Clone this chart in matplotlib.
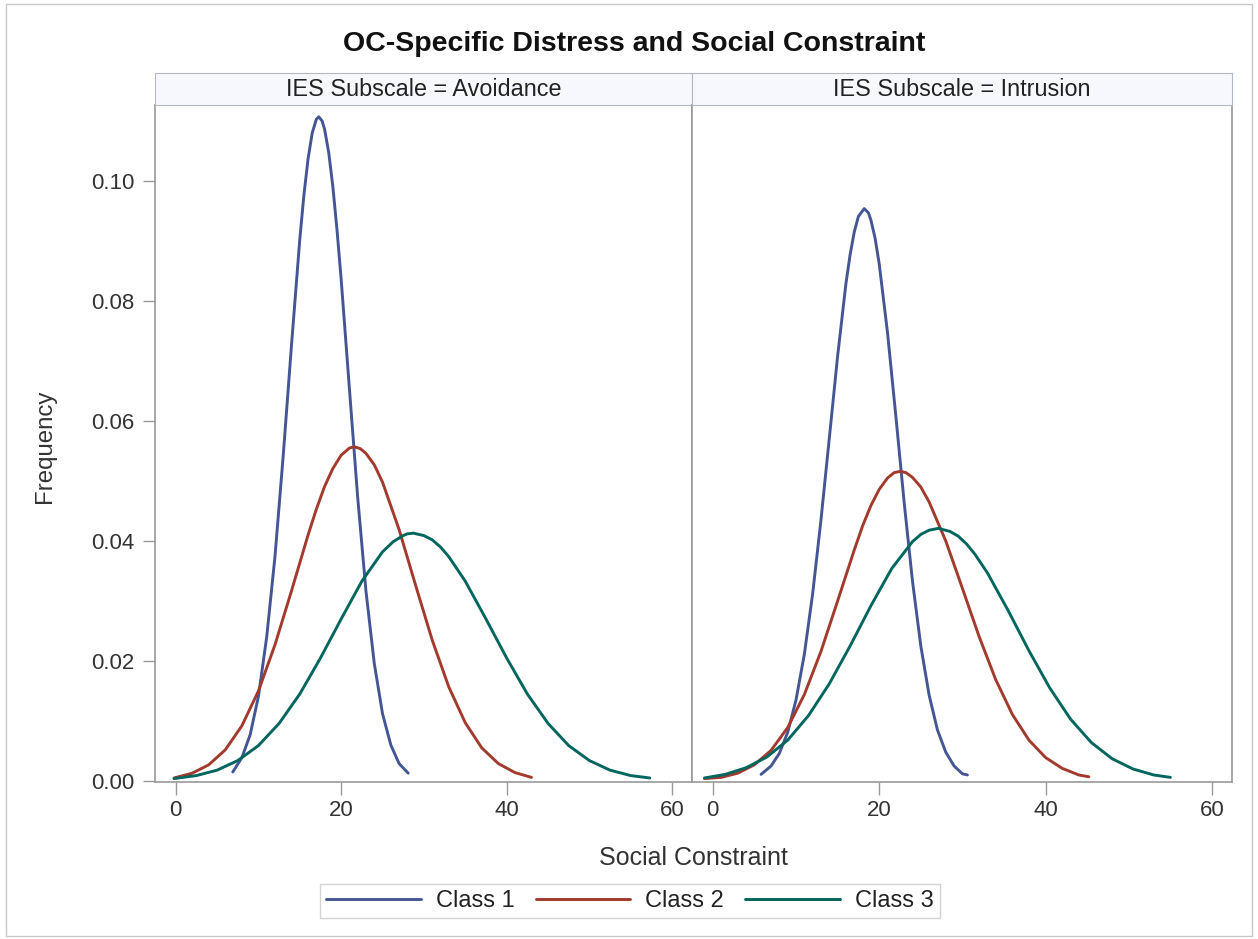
import matplotlib
matplotlib.use('Agg')
import matplotlib.pyplot as plt
from matplotlib.patches import Rectangle

plt.rcParams['font.family'] = ['Liberation Sans', 'DejaVu Sans']

# values (Social Constraint, Frequency)
avoid_c1_x = [6.9, 8, 9, 10, 11, 12, 13, 14, 15, 15.5, 16, 16.5, 17, 17.3, 17.7, 18, 18.5, 19, 19.5, 20, 21, 22,
              23, 24, 25, 26, 27, 28.1]
avoid_c1_y = [0.0015, 0.0039, 0.0077, 0.0141, 0.0240, 0.0374, 0.0543, 0.0727, 0.0903, 0.0977, 0.1037, 0.1080,
              0.1103, 0.1107, 0.1100, 0.1086, 0.1047, 0.0990, 0.0918, 0.0836, 0.0653, 0.0472, 0.0316, 0.0196,
              0.0112, 0.0060, 0.0029, 0.0013]

avoid_c2_x = [-0.2, 2, 4, 6, 8, 10, 12, 14, 16, 17, 18, 19, 20, 21, 21.6, 22.3, 23, 24, 25, 27, 29, 31, 33, 35,
              37, 39, 41, 43]
avoid_c2_y = [0.0005, 0.0013, 0.0027, 0.0052, 0.0092, 0.0150, 0.0227, 0.0317, 0.0410, 0.0453, 0.0491, 0.0521,
              0.0543, 0.0555, 0.0557, 0.0554, 0.0546, 0.0527, 0.0498, 0.0419, 0.0326, 0.0235, 0.0157, 0.0097,
              0.0055, 0.0029, 0.0014, 0.0006]

avoid_c3_x = [-0.2, 2.5, 5, 7.5, 10, 12.5, 15, 17.5, 20, 22.5, 25, 26.3, 27.5, 28, 28.75, 30, 31, 32, 33, 35,
              37.5, 40, 42.5, 45, 47.5, 50, 52.5, 55, 57.3]
avoid_c3_y = [0.0004, 0.0009, 0.0018, 0.0034, 0.0059, 0.0096, 0.0145, 0.0205, 0.0270, 0.0333, 0.0382, 0.0399,
              0.0409, 0.0412, 0.0413, 0.0409, 0.0402, 0.0390, 0.0374, 0.0333, 0.0270, 0.0205, 0.0145, 0.0096,
              0.0059, 0.0034, 0.0018, 0.0009, 0.0005]

intr_c1_x = [5.8, 7, 8, 9, 10, 11, 12, 13, 14, 15, 16, 16.5, 17, 17.5, 18.2, 18.7, 19, 19.5, 20, 21, 22, 23, 24,
             25, 26, 27, 28, 29, 30, 30.6]
intr_c1_y = [0.0011, 0.0025, 0.0046, 0.0081, 0.0135, 0.0211, 0.0312, 0.0435, 0.0571, 0.0708, 0.0829, 0.0877,
             0.0915, 0.0941, 0.0954, 0.0947, 0.0935, 0.0905, 0.0862, 0.0747, 0.0608, 0.0464, 0.0333, 0.0225,
             0.0143, 0.0085, 0.0048, 0.0025, 0.0012, 0.0010]

intr_c2_x = [-1, 1, 3, 5, 7, 9, 11, 13, 15, 17, 18, 19, 20, 21, 21.8, 22.5, 23.2, 24, 25, 26, 28, 30, 32, 34, 36,
             38, 40, 42, 44, 45.2]
intr_c2_y = [0.0004, 0.0006, 0.0013, 0.0027, 0.0051, 0.0089, 0.0144, 0.0216, 0.0300, 0.0385, 0.0425, 0.0459,
             0.0486, 0.0505, 0.0514, 0.0516, 0.0514, 0.0506, 0.0490, 0.0465, 0.0400, 0.0321, 0.0241, 0.0169,
             0.0111, 0.0068, 0.0039, 0.0021, 0.0010, 0.0007]

intr_c3_x = [-1, 1.5, 4, 6.5, 9, 11.5, 14, 16.5, 19, 21.5, 24, 25, 26, 27.1, 28.5, 29.5, 30.5, 31.5, 33, 35.5, 38,
             40.5, 43, 45.5, 48, 50.5, 53, 55]
intr_c3_y = [0.0005, 0.0011, 0.0022, 0.0040, 0.0068, 0.0109, 0.0162, 0.0225, 0.0292, 0.0354, 0.0399, 0.0411,
             0.0418, 0.0421, 0.0416, 0.0408, 0.0395, 0.0378, 0.0347, 0.0284, 0.0217, 0.0155, 0.0103, 0.0064,
             0.0037, 0.0020, 0.0010, 0.0006]

panels = ['Avoidance', 'Intrusion']
class_names = ['Class 1', 'Class 2', 'Class 3']
colors = ['#445694', '#A23A2E', '#01665E']
x_ticks = [0, 20, 40, 60]
y_ticks = [0.00, 0.02, 0.04, 0.06, 0.08, 0.10]

series = {
    'Avoidance': [(avoid_c1_x, avoid_c1_y), (avoid_c2_x, avoid_c2_y), (avoid_c3_x, avoid_c3_y)],
    'Intrusion': [(intr_c1_x, intr_c1_y), (intr_c2_x, intr_c2_y), (intr_c3_x, intr_c3_y)],
}

W, H = 1258, 939
fig = plt.figure(figsize=(W / 100, H / 100), dpi=100)
fig.patch.set_facecolor('white')

# outer border like the SAS graph frame
fig.add_artist(Rectangle((6 / W, 3 / H), 1 - 12 / W, 1 - 7 / H, transform=fig.transFigure,
                         fill=False, edgecolor='#c8c8c8', lw=1))

axis_grey = '#9a9a9a'
text_col = '#333333'
lefts = [155 / W, 692 / W]
widths = [537 / W, 540 / W]
bottom = 1 - 782 / H
height = (782 - 105) / H
strip_h = 32 / H

handles = []
for k, name in enumerate(panels):
    ax = fig.add_axes([lefts[k], bottom, widths[k], height])
    for (xs, ys), c, lab in zip(series[name], colors, class_names):
        ln, = ax.plot(xs, ys, color=c, lw=2.1, label=lab, solid_capstyle='round', solid_joinstyle='round')
        if k == 0:
            handles.append(ln)
    ax.set_xlim(-2.5, 62.4)
    ax.set_ylim(-0.00017, 0.11267)
    ax.set_xticks(x_ticks)
    ax.set_xticklabels([str(t) for t in x_ticks], fontsize=16, color=text_col)
    ax.tick_params(axis='x', length=9, width=1, color=axis_grey, pad=4)
    if k == 0:
        ax.set_yticks(y_ticks)
        ax.set_yticklabels(['%.2f' % t for t in y_ticks], fontsize=16, color=text_col)
        ax.tick_params(axis='y', length=9, width=1, color=axis_grey, pad=6)
    else:
        ax.set_yticks([])
    for side in ['top', 'bottom', 'left', 'right']:
        ax.spines[side].set_color(axis_grey)
        ax.spines[side].set_linewidth(1.2)

    # panel header strip
    sax = fig.add_axes([lefts[k], bottom + height, widths[k], strip_h])
    sax.set_facecolor('#f6f8fd')
    sax.set_xticks([])
    sax.set_yticks([])
    for side in ['top', 'bottom', 'left', 'right']:
        sax.spines[side].set_color('#b4b8c0')
    sax.text(0.5, 0.5, 'IES Subscale = ' + name, ha='center', va='center',
             fontsize=16.8, color='#222222', transform=sax.transAxes)

fig.text(634 / W, 1 - 44 / H, 'OC-Specific Distress and Social Constraint', ha='center', va='center',
         fontsize=20.5, fontweight='bold', color='#111111')
fig.text(693 / W, 1 - 858 / H, 'Social Constraint', ha='center', va='center', fontsize=18, color=text_col)
fig.text(45 / W, 1 - 446 / H, 'Frequency', ha='center', va='center', rotation=90, fontsize=17.3,
         color=text_col)

leg = fig.legend(handles=handles, labels=class_names, loc='center', bbox_to_anchor=(630 / W, 1 - 901 / H),
                 ncol=3, fontsize=17, frameon=True, fancybox=False, handlelength=4.0,
                 columnspacing=0.9, handletextpad=0.64, borderpad=0.25)
leg.get_frame().set_edgecolor('#c8c8c8')
leg.get_frame().set_linewidth(1)
for t in leg.get_texts():
    t.set_color('#222222')

plt.savefig('out.png', dpi=100)
print("saved out.png")
